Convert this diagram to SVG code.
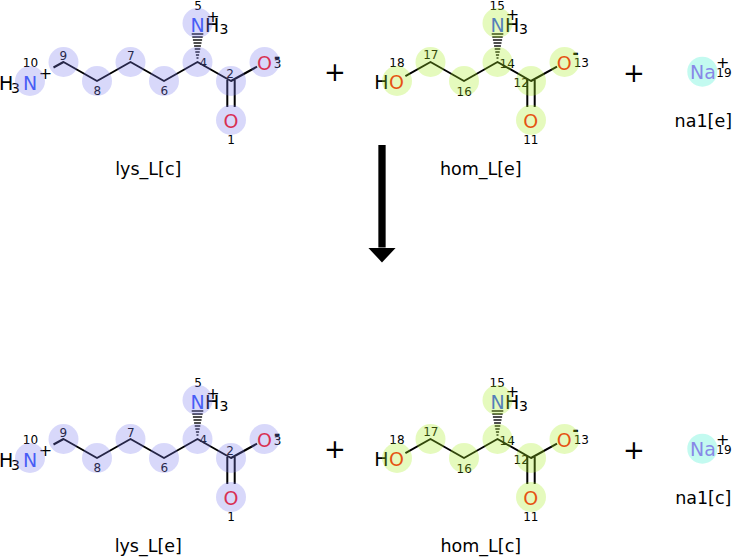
<svg xmlns="http://www.w3.org/2000/svg" width="732" height="557" viewBox="0 0 732 557">
<style>
text{font-family:"DejaVu Sans","Liberation Sans",sans-serif}
.b{stroke:#000;stroke-width:2;fill:none;stroke-linejoin:round}
.hs{stroke:#000;stroke-width:1.4}
.a{font-size:19px;text-anchor:middle}
.as{font-size:19px}
.n{font-size:12px;text-anchor:middle;fill:#000}
.s{font-size:14px}
.ch{font-size:16px;text-anchor:middle}
.m{font-size:15px;font-weight:bold;text-anchor:middle}
.lbl{font-size:17.5px;text-anchor:middle;fill:#000}
.pl{font-size:26px;text-anchor:middle}
.hl{fill:#7d7dee;fill-opacity:.3}
.hh{fill:#a8ee26;fill-opacity:.3}
.hn{fill:#37eecd;fill-opacity:.3}
.N{fill:#3050F8}
.O{fill:#FF0D0D}
.Na{fill:#AB5CF2}
</style>
<defs>
<marker id="ah" viewBox="0 0 15 28" refX="0" refY="14" markerWidth="15" markerHeight="28" markerUnits="userSpaceOnUse" orient="auto">
<path d="M0,0 L15,14 L0,28 z" fill="#000"/>
</marker>
</defs>

<!-- lys_L[c] top -->
<g id="lys_L_c">
<polyline class="b" points="53.5,67.5 63.5,62 97,81 130.5,62 164,81 197.5,62 231,81 257,66.7"/>
<line class="b" x1="227.3" y1="80" x2="227.3" y2="107"/>
<line class="b" x1="234.7" y1="80" x2="234.7" y2="107"/>
<g class="hs">
<line x1="196.5" y1="58" x2="198.5" y2="58"/><line x1="195.9" y1="55" x2="199.1" y2="55"/><line x1="195.3" y1="52" x2="199.7" y2="52"/><line x1="194.7" y1="49" x2="200.3" y2="49"/><line x1="194.1" y1="46" x2="200.9" y2="46"/><line x1="193.5" y1="43" x2="201.5" y2="43"/><line x1="192.9" y1="40" x2="202.1" y2="40"/><line x1="192.3" y1="37" x2="202.7" y2="37"/><line x1="191.7" y1="34" x2="203.3" y2="34"/>
</g>
<text class="as" x="-1" y="89.5">H</text><text class="s" x="11" y="93">3</text>
<text class="a N" x="30" y="89.5">N</text>
<text class="ch" x="45.5" y="79">+</text>
<text class="n" x="30.5" y="67">10</text>
<text class="n" x="63.3" y="60">9</text>
<text class="n" x="97.3" y="95">8</text>
<text class="n" x="130.7" y="60">7</text>
<text class="n" x="164.3" y="95">6</text>
<text class="n" x="203.3" y="66.7">4</text>
<text class="n" x="230" y="78">2</text>
<text class="a O" x="264.5" y="70">O</text>
<text class="n" x="277.5" y="68.3">3</text>
<text class="m" x="277" y="61.5">-</text>
<text class="a O" x="231" y="128">O</text>
<text class="n" x="231" y="144">1</text>
<text class="a N" x="197.5" y="31.7">N</text>
<text class="as" x="205" y="31.7">H</text><text class="s" x="219.5" y="34">3</text>
<text class="ch" x="213" y="22">+</text>
<text class="n" x="198" y="10">5</text>
<circle class="hl" cx="30" cy="81" r="15"/><circle class="hl" cx="63.5" cy="62" r="15"/><circle class="hl" cx="97" cy="81" r="15"/><circle class="hl" cx="130.5" cy="62" r="15"/><circle class="hl" cx="164" cy="81" r="15"/><circle class="hl" cx="197.5" cy="62" r="15"/><circle class="hl" cx="231" cy="81" r="15"/><circle class="hl" cx="264.5" cy="62" r="15"/><circle class="hl" cx="231" cy="120" r="15"/><circle class="hl" cx="197.5" cy="23" r="15"/>
<text class="lbl" x="148.3" y="175">lys_L[c]</text>
</g>

<!-- hom_L[e] top -->
<g id="hom_L_e">
<polyline class="b" points="405.4,76.2 430.5,62 464,81 497.5,62 531,81 557,66.7"/>
<line class="b" x1="527.3" y1="80" x2="527.3" y2="107"/>
<line class="b" x1="534.7" y1="80" x2="534.7" y2="107"/>
<g class="hs">
<line x1="496.5" y1="58" x2="498.5" y2="58"/><line x1="495.9" y1="55" x2="499.1" y2="55"/><line x1="495.3" y1="52" x2="499.7" y2="52"/><line x1="494.7" y1="49" x2="500.3" y2="49"/><line x1="494.1" y1="46" x2="500.9" y2="46"/><line x1="493.5" y1="43" x2="501.5" y2="43"/><line x1="492.9" y1="40" x2="502.1" y2="40"/><line x1="492.3" y1="37" x2="502.7" y2="37"/><line x1="491.7" y1="34" x2="503.3" y2="34"/>
</g>
<text class="as" x="374.2" y="88.5">H</text>
<text class="a O" x="396.5" y="88.5">O</text>
<text class="n" x="397" y="67">18</text>
<text class="n" x="430.8" y="59.3">17</text>
<text class="n" x="464.2" y="95.5">16</text>
<text class="n" x="507.2" y="67.5">14</text>
<text class="n" x="521.2" y="86.5">12</text>
<text class="a O" x="564.3" y="70">O</text>
<text class="n" x="581.3" y="67.3">13</text>
<text class="m" x="575.5" y="57.5">-</text>
<text class="a O" x="530.8" y="128">O</text>
<text class="n" x="530.8" y="144">11</text>
<text class="a N" x="497.5" y="31.7">N</text>
<text class="as" x="505" y="31.7">H</text><text class="s" x="519" y="34">3</text>
<text class="ch" x="512.5" y="19.5">+</text>
<text class="n" x="497.2" y="10">15</text>
<circle class="hh" cx="397" cy="81" r="15"/><circle class="hh" cx="430.5" cy="62" r="15"/><circle class="hh" cx="464" cy="81" r="15"/><circle class="hh" cx="497.5" cy="62" r="15"/><circle class="hh" cx="531" cy="81" r="15"/><circle class="hh" cx="564.5" cy="62" r="15"/><circle class="hh" cx="531" cy="120" r="15"/><circle class="hh" cx="497.5" cy="23" r="15"/>
<text class="lbl" x="480.8" y="175">hom_L[e]</text>
</g>

<!-- na1[e] top -->
<g id="na1_e">
<text class="a Na" x="703" y="78.5">Na</text>
<text class="ch" x="722.7" y="68">+</text>
<text class="n" x="724" y="76.5">19</text>
<circle class="hn" cx="702.3" cy="71.7" r="15"/>
<text class="lbl" x="703.3" y="127">na1[e]</text>
</g>

<g id="plus_top">
<text class="pl" x="335" y="81">+</text>
<text class="pl" x="634" y="81.5">+</text>
</g>

<!-- bottom row -->
<g id="lys_L_e" transform="translate(0,377)">
<polyline class="b" points="53.5,67.5 63.5,62 97,81 130.5,62 164,81 197.5,62 231,81 257,66.7"/>
<line class="b" x1="227.3" y1="80" x2="227.3" y2="107"/>
<line class="b" x1="234.7" y1="80" x2="234.7" y2="107"/>
<g class="hs">
<line x1="196.5" y1="58" x2="198.5" y2="58"/><line x1="195.9" y1="55" x2="199.1" y2="55"/><line x1="195.3" y1="52" x2="199.7" y2="52"/><line x1="194.7" y1="49" x2="200.3" y2="49"/><line x1="194.1" y1="46" x2="200.9" y2="46"/><line x1="193.5" y1="43" x2="201.5" y2="43"/><line x1="192.9" y1="40" x2="202.1" y2="40"/><line x1="192.3" y1="37" x2="202.7" y2="37"/><line x1="191.7" y1="34" x2="203.3" y2="34"/>
</g>
<text class="as" x="-1" y="89.5">H</text><text class="s" x="11" y="93">3</text>
<text class="a N" x="30" y="89.5">N</text>
<text class="ch" x="45.5" y="79">+</text>
<text class="n" x="30.5" y="67">10</text>
<text class="n" x="63.3" y="60">9</text>
<text class="n" x="97.3" y="95">8</text>
<text class="n" x="130.7" y="60">7</text>
<text class="n" x="164.3" y="95">6</text>
<text class="n" x="203.3" y="66.7">4</text>
<text class="n" x="230" y="78">2</text>
<text class="a O" x="264.5" y="70">O</text>
<text class="n" x="277.5" y="68.3">3</text>
<text class="m" x="277" y="61.5">-</text>
<text class="a O" x="231" y="128">O</text>
<text class="n" x="231" y="144">1</text>
<text class="a N" x="197.5" y="31.7">N</text>
<text class="as" x="205" y="31.7">H</text><text class="s" x="219.5" y="34">3</text>
<text class="ch" x="213" y="22">+</text>
<text class="n" x="198" y="10">5</text>
<circle class="hl" cx="30" cy="81" r="15"/><circle class="hl" cx="63.5" cy="62" r="15"/><circle class="hl" cx="97" cy="81" r="15"/><circle class="hl" cx="130.5" cy="62" r="15"/><circle class="hl" cx="164" cy="81" r="15"/><circle class="hl" cx="197.5" cy="62" r="15"/><circle class="hl" cx="231" cy="81" r="15"/><circle class="hl" cx="264.5" cy="62" r="15"/><circle class="hl" cx="231" cy="120" r="15"/><circle class="hl" cx="197.5" cy="23" r="15"/>
<text class="lbl" x="148.3" y="175">lys_L[e]</text>
</g>

<g id="hom_L_c" transform="translate(0,377)">
<polyline class="b" points="405.4,76.2 430.5,62 464,81 497.5,62 531,81 557,66.7"/>
<line class="b" x1="527.3" y1="80" x2="527.3" y2="107"/>
<line class="b" x1="534.7" y1="80" x2="534.7" y2="107"/>
<g class="hs">
<line x1="496.5" y1="58" x2="498.5" y2="58"/><line x1="495.9" y1="55" x2="499.1" y2="55"/><line x1="495.3" y1="52" x2="499.7" y2="52"/><line x1="494.7" y1="49" x2="500.3" y2="49"/><line x1="494.1" y1="46" x2="500.9" y2="46"/><line x1="493.5" y1="43" x2="501.5" y2="43"/><line x1="492.9" y1="40" x2="502.1" y2="40"/><line x1="492.3" y1="37" x2="502.7" y2="37"/><line x1="491.7" y1="34" x2="503.3" y2="34"/>
</g>
<text class="as" x="374.2" y="88.5">H</text>
<text class="a O" x="396.5" y="88.5">O</text>
<text class="n" x="397" y="67">18</text>
<text class="n" x="430.8" y="59.3">17</text>
<text class="n" x="464.2" y="95.5">16</text>
<text class="n" x="507.2" y="67.5">14</text>
<text class="n" x="521.2" y="86.5">12</text>
<text class="a O" x="564.3" y="70">O</text>
<text class="n" x="581.3" y="67.3">13</text>
<text class="m" x="575.5" y="57.5">-</text>
<text class="a O" x="530.8" y="128">O</text>
<text class="n" x="530.8" y="144">11</text>
<text class="a N" x="497.5" y="31.7">N</text>
<text class="as" x="505" y="31.7">H</text><text class="s" x="519" y="34">3</text>
<text class="ch" x="512.5" y="19.5">+</text>
<text class="n" x="497.2" y="10">15</text>
<circle class="hh" cx="397" cy="81" r="15"/><circle class="hh" cx="430.5" cy="62" r="15"/><circle class="hh" cx="464" cy="81" r="15"/><circle class="hh" cx="497.5" cy="62" r="15"/><circle class="hh" cx="531" cy="81" r="15"/><circle class="hh" cx="564.5" cy="62" r="15"/><circle class="hh" cx="531" cy="120" r="15"/><circle class="hh" cx="497.5" cy="23" r="15"/>
<text class="lbl" x="480.8" y="175">hom_L[c]</text>
</g>

<g id="na1_c" transform="translate(0,377)">
<text class="a Na" x="703" y="78.5">Na</text>
<text class="ch" x="722.7" y="68">+</text>
<text class="n" x="724" y="76.5">19</text>
<circle class="hn" cx="702.3" cy="71.7" r="15"/>
<text class="lbl" x="703.3" y="127">na1[c]</text>
</g>

<g id="plus_bottom">
<text class="pl" x="335" y="458">+</text>
<text class="pl" x="634" y="458.5">+</text>
</g>

<g id="connectors">
<line x1="382" y1="145" x2="382" y2="247.5" stroke="#000" stroke-width="7.3" marker-end="url(#ah)"/>
</g>
</svg>
